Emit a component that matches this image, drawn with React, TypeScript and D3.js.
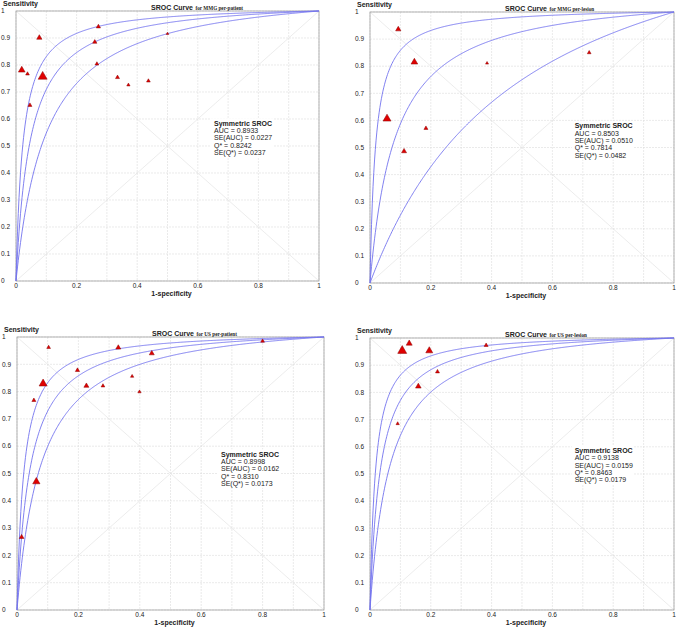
import React from 'react';
import * as d3 from 'd3';

// ---------- data ----------
const panelSubtitles = ['for MMG per-patient', 'for MMG per-lesion', 'for US per-patient', 'for US per-lesion'];
const statAUC = ['0.8933', '0.8503', '0.8998', '0.9138'];
const statSEAUC = ['0.0227', '0.0510', '0.0162', '0.0159'];
const statQ = ['0.8242', '0.7814', '0.8310', '0.8463'];
const statSEQ = ['0.0237', '0.0482', '0.0173', '0.0179'];

// symmetric SROC curve parameters (D = logit(TPR) - logit(FPR)), lower / fitted / upper
const curveD1 = [2.39, 3.09, 3.79];
const curveD2 = [1.1, 2.55, 4.0];
const curveD3 = [2.6, 3.185, 3.8];
const curveD4 = [2.78, 3.41, 4.04];

// studies: 1-specificity, sensitivity, relative weight
const fpr1 = [0.019, 0.038, 0.077, 0.088, 0.046, 0.272, 0.26, 0.267, 0.335, 0.371, 0.437, 0.5];
const sens1 = [0.781, 0.767, 0.901, 0.757, 0.651, 0.942, 0.885, 0.804, 0.754, 0.726, 0.741, 0.916];
const wt1 = [45, 14, 28, 81, 16, 18, 18, 14, 16, 11, 14, 7];

const fpr2 = [0.093, 0.146, 0.056, 0.184, 0.112, 0.385, 0.721];
const sens2 = [0.936, 0.815, 0.606, 0.571, 0.486, 0.811, 0.85];
const wt2 = [28, 45, 64, 16, 25, 9, 14];

const fpr3 = [0.103, 0.33, 0.439, 0.8, 0.197, 0.085, 0.226, 0.28, 0.375, 0.399, 0.055, 0.063, 0.015];
const sens3 = [0.962, 0.961, 0.94, 0.985, 0.878, 0.829, 0.821, 0.821, 0.856, 0.799, 0.768, 0.47, 0.267];
const wt3 = [14, 25, 25, 14, 18, 64, 25, 14, 11, 11, 16, 53, 22];

const fpr4 = [0.129, 0.106, 0.195, 0.382, 0.222, 0.159, 0.091];
const sens4 = [0.98, 0.953, 0.953, 0.973, 0.876, 0.822, 0.685];
const wt4 = [36, 81, 49, 16, 16, 32, 11];

const gridValues = [0, 0.1, 0.2, 0.3, 0.4, 0.5, 0.6, 0.7, 0.8, 0.9, 1];
const yTickLabels = ['0', '0.1', '0.2', '0.3', '0.4', '0.5', '0.6', '0.7', '0.8', '0.9', '1'];
const xTickValues = [0, 0.2, 0.4, 0.6, 0.8, 1];
const xTickLabels = ['0', '0.2', '0.4', '0.6', '0.8', '1'];

// ---------- layout ----------
const layouts = [
  { l: 16, r: 319, t: 11, b: 281, sx: 214, sy: 123.3 },
  { l: 370, r: 674, t: 12, b: 283, sx: 574.7, sy: 126 },
  { l: 17, r: 324, t: 337, b: 610, sx: 221, sy: 454.3 },
  { l: 370, r: 674, t: 338, b: 610, sx: 574.7, sy: 450.7 },
];

const panels = [
  { D: curveD1, fpr: fpr1, sens: sens1, wt: wt1 },
  { D: curveD2, fpr: fpr2, sens: sens2, wt: wt2 },
  { D: curveD3, fpr: fpr3, sens: sens3, wt: wt3 },
  { D: curveD4, fpr: fpr4, sens: sens4, wt: wt4 },
];

const FONT = 'Liberation Sans, Arial, sans-serif';
const SERIF = 'Liberation Serif, Times New Roman, serif';

const sizeScale = d3.scaleSqrt().domain([0, 81]).range([0, 9]);

// sample positions along the FPR axis for the model curve
const curveSamples: number[] = d3.range(0, 1.00001, 0.0025).map((v) => v);

function Panel({ idx }: { idx: number }) {
  const L = layouts[idx];
  const P = panels[idx];
  const x = d3.scaleLinear().domain([0, 1]).range([L.l, L.r]);
  const y = d3.scaleLinear().domain([0, 1]).range([L.b, L.t]);
  const line = d3
    .line<[number, number]>()
    .x((d) => x(d[0]))
    .y((d) => y(d[1]))
    .curve(d3.curveLinear);

  const curves = P.D.map((D) => {
    const pts: [number, number][] = curveSamples.map((f) => {
      if (f <= 0) return [0, 0];
      if (f >= 1) return [1, 1];
      const lg = Math.log(f / (1 - f)) + D;
      return [f, 1 / (1 + Math.exp(-lg))];
    });
    // refine near origin
    const extra: [number, number][] = [0.00002, 0.0001, 0.0003, 0.0006, 0.001, 0.0015, 0.002].map((f) => {
      const lg = Math.log(f / (1 - f)) + D;
      return [f, 1 / (1 + Math.exp(-lg))];
    });
    const all = [pts[0], ...extra, ...pts.slice(1)];
    return line(all) || '';
  });

  const tri = d3.symbol().type(d3.symbolTriangle);
  const statLines = [
    `AUC = ${statAUC[idx]}`,
    `SE(AUC) = ${statSEAUC[idx]}`,
    `Q* = ${statQ[idx]}`,
    `SE(Q*) = ${statSEQ[idx]}`,
  ];
  const lh = 7.3;

  return (
    <g>
      {/* grid */}
      {gridValues.map((g, i) => (
        <g key={'g' + i}>
          <line x1={x(g)} x2={x(g)} y1={L.t} y2={L.b} stroke="#dcdcdc" strokeWidth={0.6} strokeDasharray="2,1" />
          <line x1={L.l} x2={L.r} y1={y(g)} y2={y(g)} stroke="#dcdcdc" strokeWidth={0.6} strokeDasharray="2,1" />
        </g>
      ))}
      {/* diagonals */}
      <line x1={x(0)} y1={y(0)} x2={x(1)} y2={y(1)} stroke="#e4e4e4" strokeWidth={0.7} />
      <line x1={x(0)} y1={y(1)} x2={x(1)} y2={y(0)} stroke="#e4e4e4" strokeWidth={0.7} />
      {/* stats box */}
      <rect x={L.sx - 3} y={L.sy - 5} width={62} height={lh * 5 + 2} fill="#ffffff" />
      {/* frame */}
      <rect x={L.l} y={L.t} width={L.r - L.l} height={L.b - L.t} fill="none" stroke="#a0a0a0" strokeWidth={0.8} />
      {/* curves */}
      {curves.map((d, i) => (
        <path key={'c' + i} d={d} fill="none" stroke="#7373ee" strokeWidth={0.9} />
      ))}
      {/* studies */}
      {P.fpr.map((f, i) => {
        const w = sizeScale(P.wt[i]);
        const area = (Math.sqrt(3) / 4) * w * w;
        return (
          <path
            key={'p' + i}
            d={tri.size(area)() || ''}
            transform={`translate(${x(f)},${y(P.sens[i])})`}
            fill="#e00000"
            stroke="#8a0000"
            strokeWidth={0.5}
          />
        );
      })}
      {/* y tick labels */}
      {gridValues.map((g, i) => (
        <text key={'yl' + i} x={L.l - 15} y={y(g)} dy="0.35em" fontSize={6.5} fontFamily={FONT} fill="#222">
          {yTickLabels[i]}
        </text>
      ))}
      {/* x tick labels */}
      {xTickValues.map((g, i) => (
        <text key={'xl' + i} x={x(g)} y={L.b + 5} dy="0.35em" fontSize={6.5} fontFamily={FONT} fill="#222" textAnchor="middle">
          {xTickLabels[i]}
        </text>
      ))}
      <text x={(L.l + L.r) / 2 + 4} y={L.b + 13} dy="0.35em" fontSize={7} fontWeight="bold" fontFamily={FONT} fill="#222" textAnchor="middle">
        1-specificity
      </text>
      <text x={L.l - 13} y={L.t - 7} dy="0.35em" fontSize={7} fontWeight="bold" fontFamily={FONT} fill="#222">
        Sensitivity
      </text>
      <text x={L.l + 135} y={L.t - 7} dy="0.35em" fontFamily={FONT} fill="#222">
        <tspan fontSize={7} fontWeight="bold">SROC Curve</tspan>
        <tspan fontSize={5.2} fontWeight="bold" fontFamily={SERIF} dx={2.5}>
          {panelSubtitles[idx]}
        </tspan>
      </text>
      {/* stats */}
      <text x={L.sx} y={L.sy} dy="0.35em" fontSize={7} fontWeight="bold" fontFamily={FONT} fill="#222">
        Symmetric SROC
      </text>
      {statLines.map((s, i) => (
        <text key={'s' + i} x={L.sx} y={L.sy + lh * (i + 1)} dy="0.35em" fontSize={7} fontFamily={FONT} fill="#222">
          {s}
        </text>
      ))}
    </g>
  );
}

export default function App() {
  return (
    <svg
      width={676}
      height={628}
      style={{ position: 'absolute', left: 0, top: 0, background: '#fff' }}
    >
      <rect x={0} y={0} width={676} height={628} fill="#fff" />
      {[0, 1, 2, 3].map((i) => (
        <Panel key={i} idx={i} />
      ))}
    </svg>
  );
}
